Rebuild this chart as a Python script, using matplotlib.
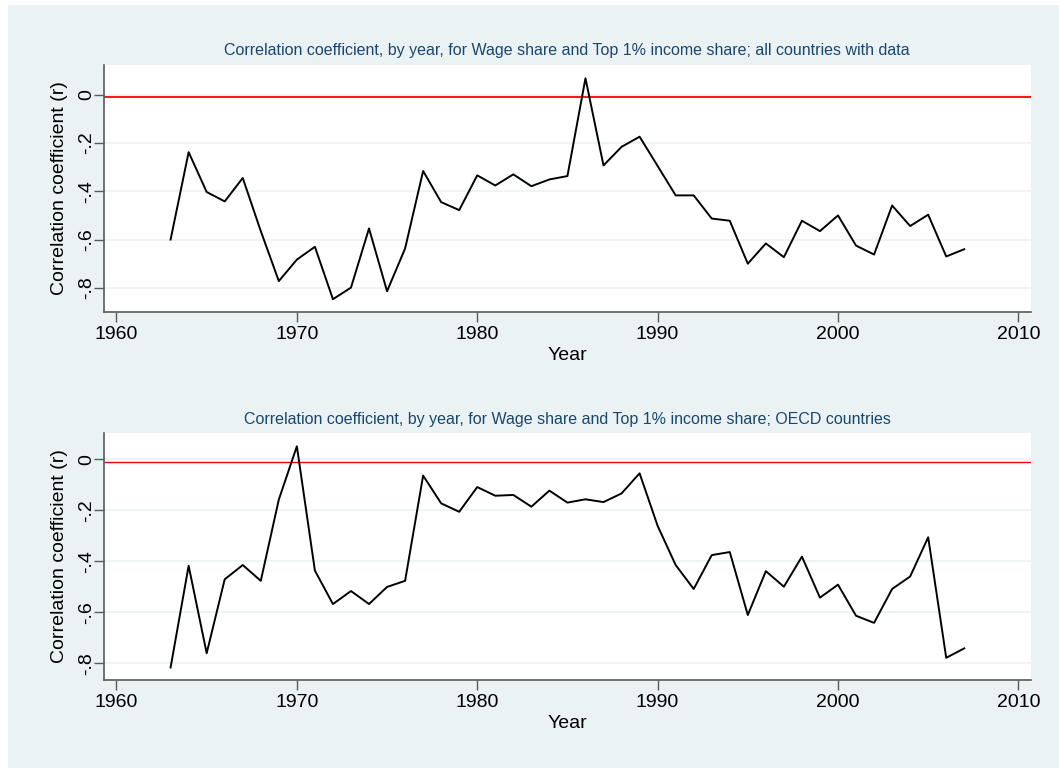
import matplotlib
matplotlib.use('Agg')
import matplotlib.pyplot as plt
from matplotlib.ticker import FuncFormatter
from matplotlib.patches import Rectangle

plt.rcParams['font.family'] = ['Liberation Sans', 'DejaVu Sans']

years = list(range(1963, 2008))

# all countries with data
r_all = [-0.600, -0.238, -0.403, -0.442, -0.345, -0.565, -0.772, -0.683, -0.630, -0.847,
         -0.799, -0.554, -0.814, -0.637, -0.316, -0.445, -0.478, -0.334, -0.376, -0.330,
         -0.379, -0.351, -0.337, 0.068, -0.293, -0.216, -0.174, -0.295, -0.417, -0.417,
         -0.513, -0.522, -0.700, -0.616, -0.673, -0.522, -0.565, -0.500, -0.625, -0.662,
         -0.459, -0.544, -0.497, -0.670, -0.640]

# OECD countries
r_oecd = [-0.817, -0.418, -0.761, -0.471, -0.415, -0.477, -0.158, 0.051, -0.437, -0.568,
          -0.517, -0.568, -0.501, -0.477, -0.064, -0.173, -0.206, -0.109, -0.143, -0.140,
          -0.186, -0.123, -0.170, -0.157, -0.168, -0.134, -0.055, -0.261, -0.415, -0.509,
          -0.376, -0.364, -0.611, -0.439, -0.500, -0.382, -0.543, -0.492, -0.614, -0.642,
          -0.509, -0.460, -0.306, -0.779, -0.742]

titles = ['Correlation coefficient, by year, for Wage share and Top 1% income share; all countries with data',
          'Correlation coefficient, by year, for Wage share and Top 1% income share; OECD countries']
yticks = [0, -0.2, -0.4, -0.6, -0.8]

BG = '#EAF2F3'
NAVY = '#1A476F'
W, H = 1059, 768

fig = plt.figure(figsize=(W / 100, H / 100), dpi=100)
fig.patch.set_facecolor('white')
fig.patches.append(Rectangle((8 / W, 0), 1 - 8 / W, 1 - 5 / H, transform=fig.transFigure,
                             facecolor=BG, edgecolor='none', zorder=-10))


def fmt(v, pos):
    if abs(v) < 1e-9:
        return '0'
    return ('%.1f' % v).replace('0.', '.')


panels = [
    (r_all, titles[0], 65, 312, (-0.90, 0.123), 1.3),
    (r_oecd, titles[1], 433.3, 679.7, (-0.865, 0.102), 1.0),
]

left, right = 103.5 / W, 1031 / W
for vals, title, top_px, bot_px, ylim, red_lw in panels:
    ax = fig.add_axes([left, 1 - bot_px / H, right - left, (bot_px - top_px) / H])
    ax.set_facecolor('white')
    ax.plot(years, vals, color='black', lw=1.4, zorder=3)
    ax.axhline(-0.009, color='#FF0000', lw=red_lw, zorder=2)
    ax.set_xlim(1959.28, 2010.7)
    ax.set_ylim(*ylim)
    ax.set_xticks(range(1960, 2011, 10))
    ax.set_yticks(yticks)
    ax.yaxis.set_major_formatter(FuncFormatter(fmt))
    ax.grid(axis='y', color=BG, lw=1.2, zorder=1)
    ax.set_axisbelow(True)
    for s in ['top', 'right']:
        ax.spines[s].set_visible(False)
    for s in ['left', 'bottom']:
        ax.spines[s].set_color('#5a5a5a')
        ax.spines[s].set_linewidth(1.2)
    ax.tick_params(axis='both', length=7, width=1, color='#5a5a5a', labelsize=14)
    ax.tick_params(axis='x', pad=3)
    ax.tick_params(axis='y', pad=-1)
    plt.setp(ax.get_yticklabels(), rotation=90, va='center')
    ax.set_xlabel('Year', fontsize=14, labelpad=3)
    ax.set_ylabel('Correlation coefficient (r)', fontsize=14, labelpad=7)
    ax.set_title(title, fontsize=11.5, color=NAVY, pad=7)

fig.savefig('out.png', dpi=100, facecolor=fig.get_facecolor())
